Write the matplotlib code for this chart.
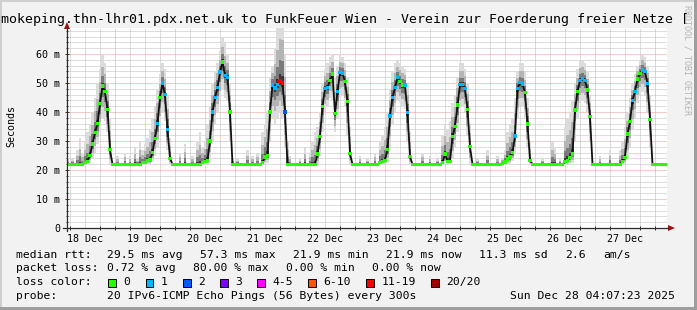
import matplotlib
matplotlib.use("Agg")
import matplotlib.pyplot as plt
import numpy as np
from matplotlib.patches import Rectangle, Polygon
from matplotlib.lines import Line2D

W, H = 697, 310
MONO = "DejaVu Sans Mono"

# hourly values, one row per day starting Dec 18 00:00 (last row: Dec 28)
median_ms = [
    [22, 22, 22, 22, 22, 22, 22, 22, 22, 22, 22, 22, 22.5, 23, 25, 29, 33, 36, 43, 49, 47, 41, 27, 22],
    [22, 22, 22, 22, 22, 22, 22, 22, 22, 22, 22, 22.5, 22.5, 23.2, 23.5, 26, 31, 36, 45, 50, 46, 34, 24, 22],
    [22, 22, 22, 22, 22, 22, 22, 22, 22, 22, 22, 22.5, 23, 23.3, 30, 40, 45, 48.4, 53.8, 57.3, 52.5, 52, 40, 22],
    [22, 22, 22, 22, 22, 22, 22, 22, 22, 22, 22, 22.5, 24.5, 25, 40, 49.3, 48.3, 49.6, 50.7, 50, 40, 22, 22, 22],
    [22, 22, 22, 22, 22, 22, 22, 22, 22, 25.5, 31.5, 42, 48.2, 48.5, 51, 53.1, 39.5, 47, 53.6, 53.4, 50.5, 43.6, 25.7, 22],
    [22, 22, 22, 22, 22, 22, 22, 22, 22, 22, 22.5, 23, 23.4, 27.2, 38.6, 45, 48.5, 51.9, 50.5, 49.3, 49.3, 39.8, 24.6, 22],
    [22, 22, 22, 22, 22, 22, 22, 22, 22, 22, 22, 22.5, 25.5, 23, 23, 31.5, 35, 42.4, 49.5, 49.5, 48.2, 41, 28, 22],
    [22, 22, 22, 22, 22, 22, 22, 22, 22, 22, 22, 22.4, 22.8, 23.8, 24.5, 26, 31.7, 48.2, 50.1, 49.7, 46.7, 35.9, 23.4, 22],
    [22, 22, 22, 22, 22, 22, 22, 22, 22, 22, 22, 22, 22.9, 23.2, 24.4, 25.5, 40.7, 47, 51, 51.6, 51, 47.6, 38.4, 22],
    [22, 22, 22, 22, 22, 22, 22, 22, 22, 22, 22, 23, 24.4, 32.4, 36.7, 44.1, 47.2, 51.4, 53.3, 54.5, 54, 49.9, 37.5, 22],
    [22, 22, 22, 22, 22],
]

# slowest ping of each hour (top of the smoke)
smoke_hi = [
    [22.2, 22.2, 22.2, 22.2, 25.5, 24, 22.2, 24, 22.2, 27, 31, 26, 30, 33, 36, 40, 45, 50, 55, 60, 57, 50, 38, 22.2],
    [22.2, 25, 22.2, 22.2, 26, 22.2, 25, 22.2, 28, 24, 30, 27, 29, 31, 34, 38, 42, 48, 53, 57, 55, 46, 31, 22.2],
    [22.2, 22.2, 26, 22.2, 29, 22.2, 22.2, 25, 22.2, 30, 33, 28, 30, 36, 42, 50, 54, 57, 61, 66, 64, 60, 50, 24],
    [22.2, 24, 22.2, 22.2, 22.2, 27, 22.2, 25, 22.2, 26, 22.2, 33, 36, 40, 52, 56, 62, 69, 75, 75, 60, 30, 25, 22.2],
    [22.2, 22.2, 24, 22.2, 28, 22.2, 26, 30, 33, 35, 40, 50, 55, 57, 59, 60, 52, 56, 60, 59, 57, 52, 35, 22.2],
    [22.2, 22.2, 25, 22.2, 22.2, 24, 22.2, 22.2, 26, 22.2, 30, 32, 35, 40, 48, 54, 57, 58, 57, 56, 55, 50, 33, 22.2],
    [22.2, 22.2, 22.2, 26, 22.2, 22.2, 25, 22.2, 22.2, 24, 22.2, 32, 36, 34, 37, 43, 46, 52, 57, 57, 55, 50, 36, 22.2],
    [22.2, 24, 22.2, 22.2, 22.2, 27, 22.2, 22.2, 22.2, 25, 22.2, 24, 27, 33, 36, 38, 45, 54, 57, 57, 54, 45, 30, 22.2],
    [22.2, 22.2, 22.2, 24, 22.2, 22.2, 22.2, 30, 28, 22.2, 24, 22.2, 35, 38, 40, 44, 50, 55, 58, 58, 57, 54, 46, 22.2],
    [22.2, 22.2, 25, 22.2, 22.2, 22.2, 27, 22.2, 22.2, 22.2, 27, 30, 35, 40, 45, 50, 53, 56, 58, 60, 59, 56, 46, 22.2],
    [22.2, 22.2, 22.2, 22.2, 22.2],
]

# fastest ping of each hour (bottom of the smoke)
smoke_lo = [
    [21.9, 21.9, 21.9, 21.9, 21.9, 21.9, 21.9, 21.9, 21.9, 21.9, 21.9, 21.9, 22, 22, 22.5, 24, 26, 29, 33, 38, 37, 33, 22, 21.9],
    [21.9, 21.9, 21.9, 21.9, 21.9, 21.9, 21.9, 21.9, 21.9, 21.9, 21.9, 21.9, 21.9, 22, 22, 23, 25, 28, 35, 40, 37, 27, 22, 21.9],
    [21.9, 21.9, 21.9, 21.9, 21.9, 21.9, 21.9, 21.9, 21.9, 21.9, 21.9, 21.9, 21.9, 22, 24, 30, 36, 40, 44, 48, 45, 44, 30, 21.9],
    [21.9, 21.9, 21.9, 21.9, 21.9, 21.9, 21.9, 21.9, 21.9, 21.9, 21.9, 22, 22, 22.5, 30, 38, 36, 38, 40, 38, 28, 21.9, 21.9, 21.9],
    [21.9, 21.9, 21.9, 21.9, 21.9, 21.9, 21.9, 21.9, 21.9, 22, 25, 33, 40, 42, 45, 44, 33, 38, 45, 46, 42, 32, 22, 21.9],
    [21.9, 21.9, 21.9, 21.9, 21.9, 21.9, 21.9, 21.9, 21.9, 21.9, 21.9, 21.9, 22, 22.5, 28, 36, 40, 44, 43, 42, 41, 30, 22, 21.9],
    [21.9, 21.9, 21.9, 21.9, 21.9, 21.9, 21.9, 21.9, 21.9, 21.9, 21.9, 21.9, 22, 22, 22, 24, 28, 33, 41, 42, 40, 32, 22, 21.9],
    [21.9, 21.9, 21.9, 21.9, 21.9, 21.9, 21.9, 21.9, 21.9, 21.9, 21.9, 21.9, 21.9, 22, 22, 23, 26, 38, 42, 42, 38, 28, 22, 21.9],
    [21.9, 21.9, 21.9, 21.9, 21.9, 21.9, 21.9, 21.9, 21.9, 21.9, 21.9, 21.9, 21.9, 22, 22, 22.5, 30, 38, 43, 44, 43, 40, 30, 21.9],
    [21.9, 21.9, 21.9, 21.9, 21.9, 21.9, 21.9, 21.9, 21.9, 21.9, 21.9, 22, 22, 24, 28, 34, 38, 43, 46, 47, 46, 40, 28, 21.9],
    [21.9, 21.9, 21.9, 21.9, 21.9],
]

# lost pings (of 20) per hour
lost_pings = [
    [0, 0, 0, 0, 0, 0, 0, 0, 0, 0, 0, 0, 0, 0, 0, 0, 0, 0, 0, 0, 0, 0, 0, 0],
    [0, 0, 0, 0, 0, 0, 0, 0, 0, 0, 0, 0, 0, 0, 0, 0, 0, 1, 0, 1, 1, 1, 0, 0],
    [0, 0, 0, 0, 0, 0, 0, 0, 0, 0, 0, 0, 0, 0, 0, 1, 1, 1, 1, 0, 1, 1, 0, 0],
    [0, 0, 0, 0, 0, 0, 0, 0, 0, 0, 0, 0, 0, 0, 0, 1, 1, 1, 16, 16, 2, 0, 0, 0],
    [0, 0, 0, 0, 0, 0, 0, 0, 0, 0, 0, 0, 1, 1, 0, 0, 0, 1, 1, 1, 0, 0, 0, 0],
    [0, 0, 0, 0, 0, 0, 0, 0, 0, 0, 0, 0, 0, 0, 1, 1, 1, 1, 0, 0, 1, 1, 0, 0],
    [0, 0, 0, 0, 0, 0, 0, 0, 0, 0, 0, 0, 0, 0, 0, 0, 0, 0, 1, 1, 1, 0, 0, 0],
    [0, 0, 0, 0, 0, 0, 0, 0, 0, 0, 0, 0, 0, 0, 0, 0, 1, 1, 1, 1, 0, 0, 0, 0],
    [0, 0, 0, 0, 0, 0, 0, 0, 0, 0, 0, 0, 0, 0, 0, 0, 0, 0, 1, 1, 1, 0, 0, 0],
    [0, 0, 0, 0, 0, 0, 0, 0, 0, 0, 0, 0, 0, 0, 0, 1, 1, 0, 0, 1, 1, 1, 0, 0],
    [0, 0, 0, 0, 0],
]

day_labels = ["18 Dec", "19 Dec", "20 Dec", "21 Dec", "22 Dec",
              "23 Dec", "24 Dec", "25 Dec", "26 Dec", "27 Dec"]
ytick_vals = [0, 10, 20, 30, 40, 50, 60]
ytick_labels = ["0", "10 m", "20 m", "30 m", "40 m", "50 m", "60 m"]

loss_names = ["0", "1", "2", "3", "4-5", "6-10", "11-19", "20/20"]
loss_colors = ["#26ff00", "#00b8ff", "#0059ff", "#7e00ff",
               "#ff00ff", "#ff5500", "#ff0000", "#a10000"]

title = "smokeping.thn-lhr01.pdx.net.uk to FunkFeuer Wien - Verein zur Foerderung freier Netze ["
rtt_row = [("median rtt:", 16), ("29.5 ms avg", 107), ("57.3 ms max", 200),
           ("21.9 ms min", 293), ("21.9 ms now", 386), ("11.3 ms sd", 479),
           ("2.6", 565), ("am/s", 603)]
loss_row = [("packet loss:", 16), ("0.72 % avg", 107), ("80.00 % max", 193),
            ("0.00 % min", 286), ("0.00 % now", 372)]
probe_text = "20 IPv6-ICMP Echo Pings (56 Bytes) every 300s"
stamp_text = "Sun Dec 28 04:07:23 2025"


def flat(rows):
    return np.array([v for r in rows for v in r], dtype=float)


med = flat(median_ms)
hi = flat(smoke_hi)
lo = flat(smoke_lo)
loss = flat(lost_pings).astype(int)
hours = np.arange(len(med))


def loss_color(n):
    if n <= 3:
        return loss_colors[n]
    if n <= 5:
        return loss_colors[4]
    if n <= 10:
        return loss_colors[5]
    if n <= 19:
        return loss_colors[6]
    return loss_colors[7]


def fx(x):
    return x / W


def fy(y):
    return 1 - y / H


fig = plt.figure(figsize=(W / 100, H / 100), dpi=100, facecolor="#f2f2f2")
ax = fig.add_axes([fx(67), fy(228), 600 / W, 200 / H])
ax.set_facecolor("white")
ax.set_xlim(4.8, 244.8)
ax.set_ylim(0, 69)
for s in ax.spines.values():
    s.set_visible(False)

# grid
dot = (0, (1, 1))
for h in range(6, 245, 6):
    if h % 24 == 0:
        ax.axvline(h, color="#eb9a9a", lw=0.72, ls=dot, zorder=1)
    else:
        ax.axvline(h, color="#bdbdbd", lw=0.72, ls=dot, zorder=1)
for v in range(2, 69, 2):
    if v % 10 == 0:
        ax.axhline(v, color="#eb9a9a", lw=0.72, ls=dot, zorder=1)
    else:
        ax.axhline(v, color="#bdbdbd", lw=0.72, ls=dot, zorder=1)

# smoke
ax.fill_between(hours, lo, hi, step="mid", color="#dcdcdc", lw=0, zorder=2)
ax.fill_between(hours, med - 0.65 * (med - lo), med + 0.6 * (hi - med),
                step="mid", color="#b4b4b4", lw=0, zorder=2)
ax.fill_between(hours, med - 0.35 * (med - lo), med + 0.3 * (hi - med),
                step="mid", color="#7a7a7a", lw=0, zorder=2)
ax.fill_between(hours, med - 0.12 * (med - lo), med + 0.1 * (hi - med),
                step="mid", color="#383838", lw=0, zorder=2)

# median and loss colour
ax.plot(hours, med, color="#111111", lw=1.3, zorder=4)
ax.scatter(hours, med, marker="s", s=5.5, lw=0,
           c=[loss_color(n) for n in loss], zorder=5)

# ticks
ax.set_xticks([12 + 24 * k for k in range(10)])
ax.set_xticklabels(day_labels, fontfamily=MONO, fontsize=7.2)
ax.set_xticks(list(range(6, 245, 6)), minor=True)
ax.set_yticks(ytick_vals)
ax.set_yticklabels(ytick_labels, fontfamily=MONO, fontsize=7.2)
ax.set_yticks(list(range(0, 69, 2)), minor=True)
ax.tick_params(axis="x", which="major", length=0, pad=4)
ax.tick_params(axis="x", which="minor", length=2.2, direction="inout",
               width=0.72, color="#333333")
ax.tick_params(axis="y", which="major", length=3, direction="inout",
               width=0.72, color="#333333", pad=3.6)
ax.tick_params(axis="y", which="minor", length=1.5, direction="inout",
               width=0.72, color="#333333")

# axes and arrows
fig.add_artist(Line2D([fx(63), fx(668)], [fy(228), fy(228)],
                      transform=fig.transFigure, color="#2b2b2b", lw=0.9))
fig.add_artist(Line2D([fx(67), fx(67)], [fy(231), fy(28)],
                      transform=fig.transFigure, color="#2b2b2b", lw=0.9))
fig.add_artist(Polygon([(fx(64), fy(29)), (fx(70), fy(29)), (fx(67), fy(22))],
                       closed=True, transform=fig.transFigure,
                       facecolor="#a01010", edgecolor="none"))
fig.add_artist(Polygon([(fx(668), fy(225)), (fx(668), fy(231)), (fx(675), fy(228))],
                       closed=True, transform=fig.transFigure,
                       facecolor="#a01010", edgecolor="none"))

# texts (the title is wider than the image, as in the original)
fig.text(fx(-6.9), fy(19), title, fontfamily=MONO, fontsize=9.5,
         ha="left", va="center")
fig.text(fx(11), fy(126), "Seconds", fontfamily=MONO, fontsize=7.2,
         rotation=90, ha="center", va="center")
fig.text(fx(687.5), fy(5), "RRDTOOL / TOBI OETIKER", fontfamily=MONO,
         fontsize=6, rotation=-90, ha="center", va="top", color="#b4b4b4")

leg_fs = 8.2
for txt, x in rtt_row:
    fig.text(fx(x), fy(254.7), txt, fontfamily=MONO, fontsize=leg_fs, va="center")
for txt, x in loss_row:
    fig.text(fx(x), fy(268.3), txt, fontfamily=MONO, fontsize=leg_fs, va="center")
fig.text(fx(16), fy(282.3), "loss color:", fontfamily=MONO, fontsize=leg_fs, va="center")
bx = 108.3
for name, col in zip(loss_names, loss_colors):
    fig.add_artist(Rectangle((fx(bx), fy(286.5)), 7.7 / W, 8 / H,
                             transform=fig.transFigure, facecolor=col,
                             edgecolor="black", lw=0.7))
    fig.text(fx(bx + 15), fy(282.3), name, fontfamily=MONO, fontsize=leg_fs, va="center")
    bx = bx + 15 + 6.88 * len(name) + 15.4
fig.text(fx(16), fy(296.3), "probe:", fontfamily=MONO, fontsize=leg_fs, va="center")
fig.text(fx(107), fy(296.3), probe_text, fontfamily=MONO, fontsize=leg_fs, va="center")
fig.text(fx(509.5), fy(296.3), stamp_text, fontfamily=MONO, fontsize=leg_fs, va="center")

# frame shading
fig.add_artist(Rectangle((0, fy(2)), 1, 2 / H, transform=fig.transFigure,
                         facecolor="#cfcfcf", edgecolor="none"))
fig.add_artist(Rectangle((0, 0), 2 / W, 1, transform=fig.transFigure,
                         facecolor="#cfcfcf", edgecolor="none"))
fig.add_artist(Rectangle((0, 0), 1, 3 / H, transform=fig.transFigure,
                         facecolor="#9e9e9e", edgecolor="none"))
fig.add_artist(Rectangle((fx(694), 0), 3 / W, 1, transform=fig.transFigure,
                         facecolor="#9e9e9e", edgecolor="none"))

fig.savefig("out.png", dpi=100, facecolor=fig.get_facecolor())
